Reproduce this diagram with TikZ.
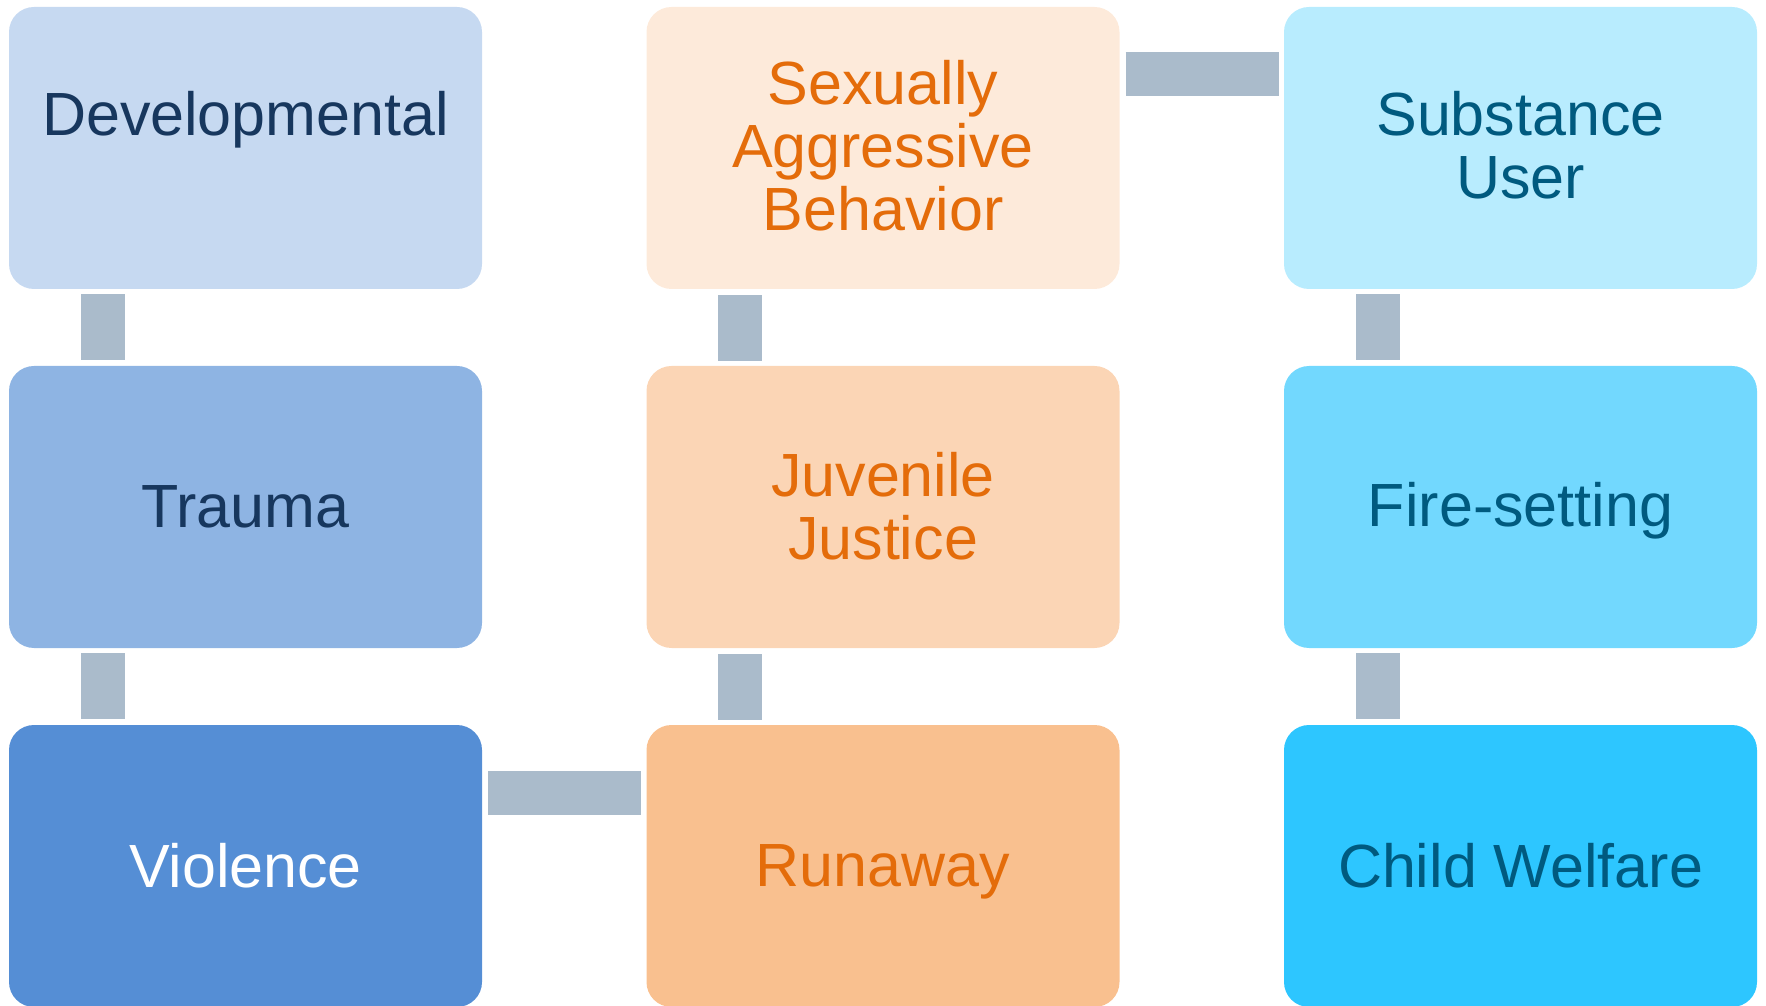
\documentclass[tikz,border=0pt]{standalone}
\usepackage{fontspec}
\setmainfont{Liberation Sans}

\definecolor{blueA}{HTML}{C6D9F1}
\definecolor{blueB}{HTML}{8EB4E3}
\definecolor{blueC}{HTML}{558ED5}
\definecolor{navy}{HTML}{17375E}
\definecolor{peachA}{HTML}{FDEADA}
\definecolor{peachB}{HTML}{FBD5B5}
\definecolor{peachC}{HTML}{F9C08F}
\definecolor{orangetxt}{HTML}{E46C0A}
\definecolor{cyanA}{HTML}{B8ECFE}
\definecolor{cyanB}{HTML}{72D8FE}
\definecolor{cyanC}{HTML}{2DC6FF}
\definecolor{tealtxt}{HTML}{005A7F}
\definecolor{linkgray}{HTML}{AABBCB}

\tikzset{
  card/.style={rounded corners=25pt, minimum width=473pt, minimum height=282pt,
    inner sep=0pt, align=center, font=\fontsize{61}{63}\selectfont},
  toptext/.style={text depth=6pt},
  link/.style={draw=linkgray, line width=44pt}
}

\begin{document}
\begin{tikzpicture}[x=1pt,y=1pt]
\useasboundingbox (0,0) rectangle (1766,1005);

\node[card, toptext, fill=blueA, text=navy] (dev) at (245.5,857) {Developmental\\\mbox{}};
\node[card, fill=blueB, text=navy] (trauma) at (245.5,498) {Trauma};
\node[card, fill=blueC, text=white] (violence) at (245.5,139) {Violence};

\node[card, toptext, fill=peachA, text=orangetxt] (sab) at (883,857) {Sexually\\Aggressive\\Behavior};
\node[card, text depth=3pt, fill=peachB, text=orangetxt] (juvenile) at (883,498) {Juvenile\\Justice};
\node[card, text depth=0pt, fill=peachC, text=orangetxt] (runaway) at (883,139) {Runaway};

\node[card, toptext, fill=cyanA, text=tealtxt] (substance) at (1520.5,857) {Substance\\User};
\node[card, text depth=6pt, fill=cyanB, text=tealtxt] (fire) at (1520.5,498) {Fire-setting};
\node[card, fill=cyanC, text=tealtxt] (welfare) at (1520.5,139) {Child Welfare};

\draw[link, shorten <=5pt, shorten >=6pt] ([xshift=94pt]dev.south west) -- ([xshift=94pt]trauma.north west);
\draw[link, shorten <=5pt, shorten >=6pt] ([xshift=94pt]trauma.south west) -- ([xshift=94pt]violence.north west);
\draw[link, shorten <=6pt, shorten >=5pt] ([yshift=-68pt]violence.north east) -- ([yshift=-68pt]runaway.north west);
\draw[link, shorten <=5pt, shorten >=6pt] ([xshift=94pt]runaway.north west) -- ([xshift=94pt]juvenile.south west);
\draw[link, shorten <=5pt, shorten >=6pt] ([xshift=94pt]juvenile.north west) -- ([xshift=94pt]sab.south west);
\draw[link, shorten <=6pt, shorten >=5pt] ([yshift=-67pt]sab.north east) -- ([yshift=-67pt]substance.north west);
\draw[link, shorten <=5pt, shorten >=6pt] ([xshift=94pt]substance.south west) -- ([xshift=94pt]fire.north west);
\draw[link, shorten <=5pt, shorten >=6pt] ([xshift=94pt]fire.south west) -- ([xshift=94pt]welfare.north west);

\end{tikzpicture}
\end{document}
